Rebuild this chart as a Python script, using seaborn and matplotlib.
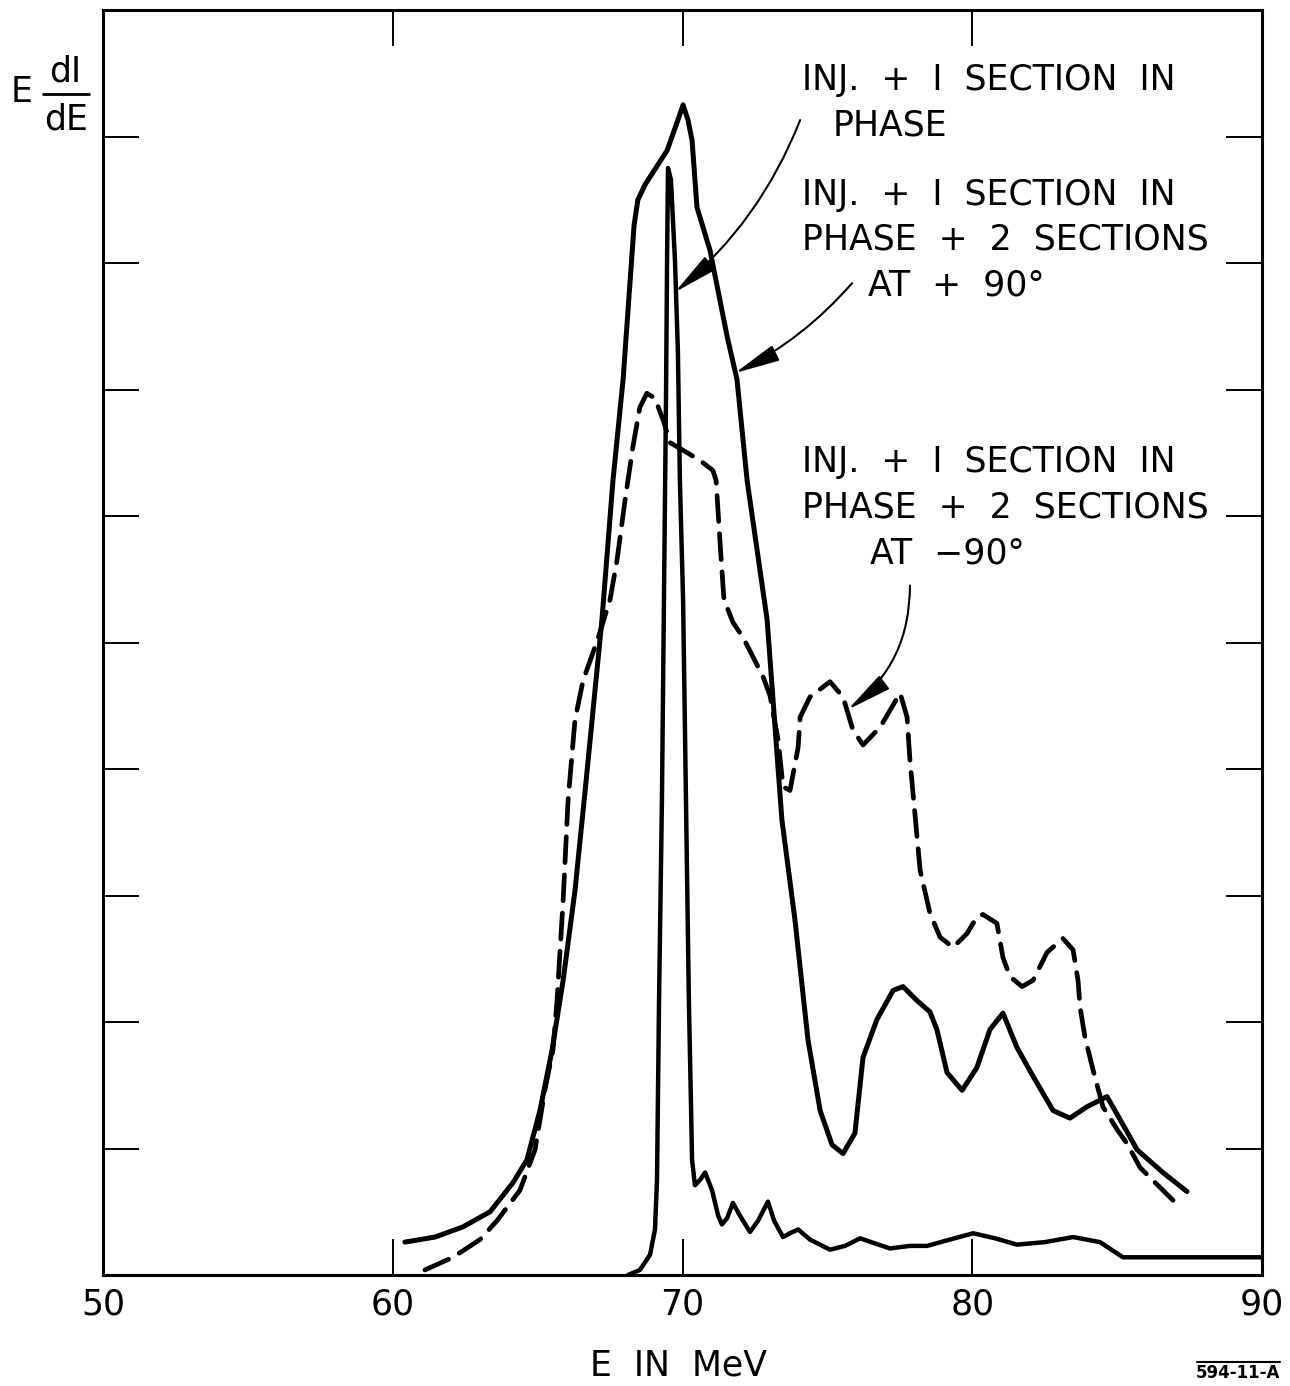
import matplotlib
matplotlib.use("Agg")
import matplotlib.pyplot as plt
import seaborn as sns
from matplotlib.lines import Line2D

# ---------------- data ----------------
# INJ. + 1 SECTION IN PHASE  (narrow spike)
energy_in_phase = [68.12, 68.53, 68.88, 69.05, 69.12, 69.19, 69.29, 69.36, 69.43, 69.47,
                   69.50, 69.60, 69.74, 69.84, 69.91, 70.02, 70.12, 70.22, 70.29, 70.33,
                   70.43, 70.60, 70.78, 71.02, 71.23, 71.36, 71.54, 71.74, 71.98, 72.33,
                   72.61, 72.95, 73.16, 73.47, 73.71, 73.99, 74.40, 75.09, 75.61, 76.13,
                   76.64, 77.16, 77.85, 78.44, 79.23, 80.03, 80.79, 81.54, 82.51, 83.48,
                   84.41, 85.20, 86.14, 90.00]
intensity_in_phase = [0.00, 0.04, 0.16, 0.36, 0.75, 2.17, 3.75, 5.34, 6.92, 8.10,
                      8.75, 8.66, 8.02, 7.31, 6.28, 5.34, 3.75, 2.17, 1.38, 0.91,
                      0.71, 0.75, 0.81, 0.67, 0.47, 0.40, 0.45, 0.57, 0.47, 0.34,
                      0.43, 0.58, 0.43, 0.30, 0.33, 0.36, 0.28, 0.20, 0.23, 0.29,
                      0.25, 0.21, 0.23, 0.23, 0.28, 0.33, 0.29, 0.24, 0.26, 0.30,
                      0.26, 0.14, 0.14, 0.14]

# INJ. + 1 SECTION IN PHASE + 2 SECTIONS AT +90 deg  (broad solid)
energy_plus90 = [60.42, 61.46, 62.42, 63.36, 64.15, 64.63, 65.08, 65.50, 65.88, 66.29,
                 66.64, 67.22, 67.60, 67.95, 68.22, 68.33, 68.46, 68.71, 69.47, 69.84,
                 70.02, 70.19, 70.33, 70.50, 70.95, 71.54, 71.88, 72.23, 72.92, 73.43,
                 73.88, 74.33, 74.75, 75.16, 75.54, 75.95, 76.23, 76.71, 77.27, 77.61,
                 78.09, 78.54, 78.78, 79.13, 79.65, 80.16, 80.61, 81.06, 81.54, 82.10,
                 82.79, 83.37, 83.96, 84.65, 85.10, 85.69, 86.58, 87.41]
intensity_plus90 = [0.26, 0.30, 0.38, 0.50, 0.73, 0.91, 1.30, 1.78, 2.33, 3.04,
                    3.83, 5.18, 6.28, 7.08, 7.95, 8.30, 8.50, 8.62, 8.89, 9.13,
                    9.25, 9.13, 8.97, 8.44, 8.10, 7.42, 7.08, 6.28, 5.18, 3.60,
                    2.81, 1.86, 1.30, 1.03, 0.96, 1.12, 1.72, 2.02, 2.25, 2.28,
                    2.17, 2.08, 1.94, 1.60, 1.46, 1.64, 1.94, 2.07, 1.80, 1.57,
                    1.30, 1.24, 1.33, 1.41, 1.23, 0.99, 0.81, 0.66]

# INJ. + 1 SECTION IN PHASE + 2 SECTIONS AT -90 deg  (dashed)
energy_minus90 = [61.11, 62.08, 63.01, 63.60, 64.39, 64.91, 65.25, 65.53, 65.67, 65.88,
                  66.05, 66.29, 66.57, 66.88, 67.15, 67.50, 67.74, 68.02, 68.29, 68.53,
                  68.77, 69.05, 69.33, 69.57, 70.09, 70.60, 71.05, 71.16, 71.29, 71.43,
                  71.74, 72.09, 72.78, 73.02, 73.30, 73.47, 73.71, 73.99, 74.06, 74.40,
                  75.09, 75.54, 75.88, 76.23, 76.82, 77.51, 77.75, 77.85, 78.02, 78.20,
                  78.54, 78.89, 79.34, 79.82, 80.16, 80.37, 80.85, 81.06, 81.30, 81.72,
                  82.10, 82.58, 83.13, 83.48, 83.65, 83.72, 83.89, 84.17, 84.51, 85.00,
                  85.34, 85.79, 86.93]
intensity_minus90 = [0.04, 0.14, 0.28, 0.43, 0.67, 0.99, 1.46, 1.78, 2.17, 2.96,
                     3.75, 4.39, 4.70, 4.90, 5.08, 5.34, 5.65, 6.13, 6.55, 6.86,
                     6.97, 6.93, 6.76, 6.58, 6.51, 6.44, 6.36, 6.28, 5.81, 5.34,
                     5.16, 5.04, 4.73, 4.58, 4.23, 3.86, 3.83, 4.17, 4.41, 4.57,
                     4.69, 4.57, 4.31, 4.19, 4.33, 4.60, 4.41, 4.07, 3.65, 3.20,
                     2.86, 2.67, 2.59, 2.70, 2.83, 2.85, 2.78, 2.51, 2.36, 2.28,
                     2.33, 2.55, 2.66, 2.57, 2.33, 2.12, 1.88, 1.62, 1.33, 1.15,
                     1.04, 0.85, 0.59]

x_ticks = [50, 60, 70, 80, 90]
x_tick_labels = ["50", "60", "70", "80", "90"]
y_ticks = [1, 2, 3, 4, 5, 6, 7, 8, 9]

label_in_phase = ["INJ.  +  I  SECTION  IN", "PHASE"]
label_plus90 = ["INJ.  +  I  SECTION  IN", "PHASE  +  2  SECTIONS", "AT  +  90°"]
label_minus90 = ["INJ.  +  I  SECTION  IN", "PHASE  +  2  SECTIONS", "AT  −90°"]
x_label = "E  IN  MeV"
fig_code = "594-11-A"

# ---------------- style ----------------
sns.set_style("ticks")
plt.rcParams["font.family"] = ["DejaVu Sans"]
plt.rcParams["text.color"] = "black"

W, H = 1290, 1386
fig = plt.figure(figsize=(W / 100, H / 100), dpi=100)
ax = fig.add_axes([103 / W, 1 - 1275 / H, (1262 - 103) / W, (1275 - 10) / H])


def fp(px, py):
    return px / W, 1 - py / H


sns.lineplot(x=energy_in_phase, y=intensity_in_phase, ax=ax, sort=False, estimator=None,
             color="black", lw=3.2, solid_capstyle="round", solid_joinstyle="round")
sns.lineplot(x=energy_plus90, y=intensity_plus90, ax=ax, sort=False, estimator=None,
             color="black", lw=3.6, solid_capstyle="round", solid_joinstyle="round")
sns.lineplot(x=energy_minus90, y=intensity_minus90, ax=ax, sort=False, estimator=None,
             color="black", lw=3.4, dashes=False, linestyle=(0, (5.5, 2.6)),
             dash_capstyle="round", dash_joinstyle="round")

ax.set_xlim(50, 90)
ax.set_ylim(0, 10)
ax.set_xticks(x_ticks)
ax.set_xticklabels(x_tick_labels)
ax.set_yticks(y_ticks)
ax.set_yticklabels([])
ax.set_xlabel("")
ax.set_ylabel("")
ax.tick_params(axis="both", direction="in", length=26, width=1.4, top=True, right=True,
               labelsize=25, pad=9, colors="black")
for s in ax.spines.values():
    s.set_visible(True)
    s.set_linewidth(2.2)
    s.set_color("black")

# ---------------- annotations ----------------
txt_kw = dict(fontsize=25, ha="left", va="center", color="black")
fig.text(*fp(802, 80), label_in_phase[0], **txt_kw)
fig.text(*fp(833, 125), label_in_phase[1], **txt_kw)
fig.text(*fp(802, 195), label_plus90[0], **txt_kw)
fig.text(*fp(802, 240), label_plus90[1], **txt_kw)
fig.text(*fp(868, 285), label_plus90[2], **txt_kw)
fig.text(*fp(802, 462), label_minus90[0], **txt_kw)
fig.text(*fp(802, 507), label_minus90[1], **txt_kw)
fig.text(*fp(870, 553), label_minus90[2], **txt_kw)

arrow_kw = dict(arrowstyle="-|>,head_length=1.4,head_width=0.26", color="black",
                lw=1.5, shrinkA=0, shrinkB=0, mutation_scale=20)
ax.annotate("", xy=(69.74, 7.77), xytext=(74.06, 9.13),
            arrowprops=dict(connectionstyle="arc3,rad=-0.13", **arrow_kw))
ax.annotate("", xy=(71.81, 7.13), xytext=(75.85, 7.84),
            arrowprops=dict(connectionstyle="arc3,rad=-0.1", **arrow_kw))
ax.annotate("", xy=(75.71, 4.47), xytext=(77.85, 5.45),
            arrowprops=dict(connectionstyle="arc3,rad=-0.25", **arrow_kw))

# y label  E dI/dE
fig.text(*fp(22, 92), "E", fontsize=25, ha="center", va="center", color="black")
fig.text(*fp(65, 72), "dI", fontsize=25, ha="center", va="center", color="black")
fig.text(*fp(66, 119), "dE", fontsize=25, ha="center", va="center", color="black")
fig.add_artist(Line2D([43 / W, 89 / W], [1 - 94 / H, 1 - 94 / H], color="black", lw=2.0))

# x label
fig.text(*fp(678, 1366), x_label, fontsize=25, ha="center", va="center", color="black")

# figure code
fig.text(*fp(1238, 1373), fig_code, fontsize=12, fontweight="bold", ha="center",
         va="center", color="black")
fig.add_artist(Line2D([1197 / W, 1280 / W], [1 - 1362 / H, 1 - 1362 / H], color="black", lw=1.5))

fig.savefig("out.png", dpi=100, facecolor="white")
